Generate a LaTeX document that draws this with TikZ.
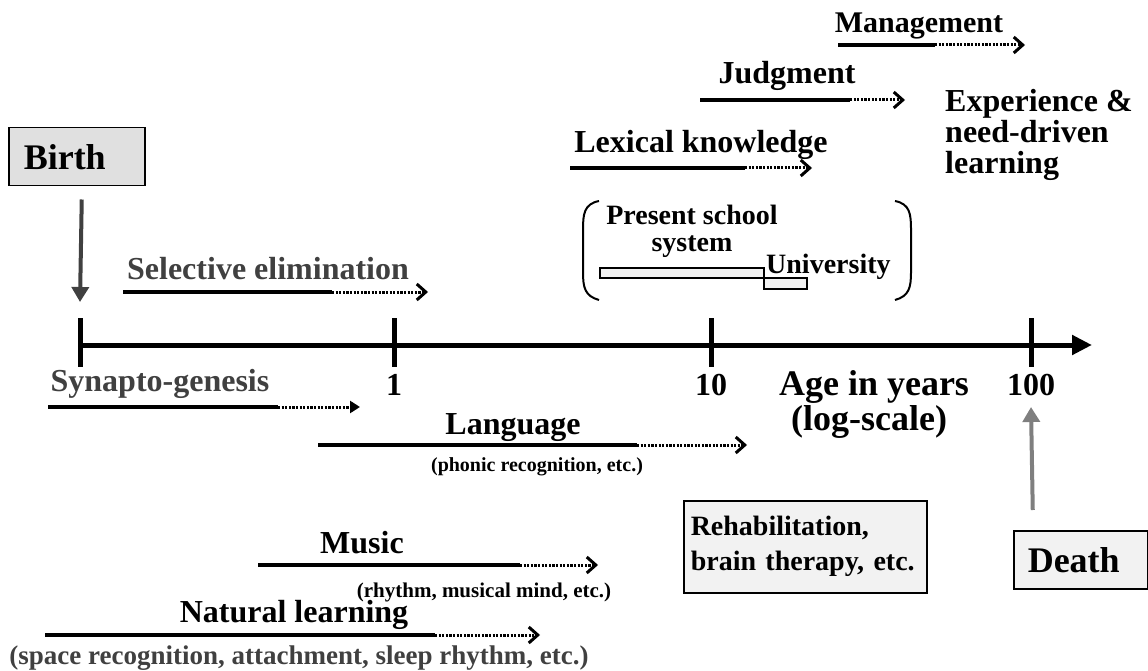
\documentclass[tikz,border=0pt]{standalone}
\usepackage{fontspec}
\setmainfont{Liberation Serif}
\usetikzlibrary{arrows.meta, positioning}
\definecolor{darkgr}{HTML}{404040}
\definecolor{midgr}{HTML}{7F7F7F}
\definecolor{boxgr}{HTML}{E0E0E0}
\definecolor{lightgr}{HTML}{F2F2F2}

\begin{document}
\begin{tikzpicture}[x=1pt, y=-1pt,
  lbl/.style = {font=\fontsize{32}{34}\selectfont\bfseries, inner sep=0pt},
  biglbl/.style = {font=\fontsize{36}{38}\selectfont\bfseries, inner sep=0pt},
  note/.style = {font=\fontsize{20}{22}\selectfont\bfseries, inner sep=0pt},
  sure/.style = {line width=3.5pt},
  later/.style = {line width=3pt, dash pattern=on 2.2pt off 1.4pt,
    -{Straight Barb[length=9pt, width=16pt, line width=3pt]}},
  event/.style = {draw, line width=1.5pt, minimum height=58pt, align=left}]

\useasboundingbox (0,0) rectangle (1148,671);

% time axis
\coordinate (t0) at (80,345);
\coordinate (t1) at (394,345);
\coordinate (t10) at (711,345);
\coordinate (t100) at (1031,345);
\coordinate (tend) at (1092,345);
\draw[line width=5pt, -{Triangle[length=20pt, width=19pt]}] (t0) -- (tend);
\foreach \t in {t0, t1, t10, t100}
  \draw[line width=5pt] ([yshift=27pt]\t) -- ([yshift=-22pt]\t);
\node[lbl, anchor=base] (one) at (394,395) {1};
\node[lbl, anchor=base] (ten) at (711,395) {10};
\node[lbl, anchor=base] (hund) at (1031,395) {100};
\node[biglbl, anchor=base] (age) at (874,395) {Age in years};
\node[biglbl, anchor=base] (logsc) at (869,430) {(log-scale)};

% birth and death
\node[event, fill=boxgr, minimum width=136pt, text width=106pt, inner xsep=15pt,
  biglbl, anchor=north west] (birth) at (8,127) {Birth};
\node[event, fill=lightgr, minimum width=134pt, text width=106pt, inner xsep=14pt,
  biglbl, anchor=north west] (death) at (1013,530) {Death};
\draw[darkgr, line width=4pt, -{Triangle[length=15pt, width=17pt]}]
  ([shift={(5pt,-13pt)}]birth.south) -- ([yshift=43pt]t0);
\draw[midgr, line width=4pt, -{Triangle[length=15pt, width=17pt]}]
  ([shift={(-48pt,20pt)}]death.north) -- ([yshift=-62pt]t100);
\node[event, fill=lightgr, minimum width=243pt, minimum height=92pt, text width=229pt,
  inner xsep=7pt, font=\fontsize{28}{35}\selectfont\bfseries, anchor=north west]
  (rehab) at (683,500) {Rehabilitation,\\brain therapy, etc.};

% later life
\node[lbl, font=\fontsize{30}{32}\selectfont\bfseries, anchor=base] (mgmt) at (919,33) {Management};
\coordinate (mgmt-a) at (838,45);
\coordinate (mgmt-b) at (935,45);
\coordinate (mgmt-c) at (1025,45);
\draw[sure] (mgmt-a) -- (mgmt-b);
\draw[later] (mgmt-b) -- (mgmt-c);

\node[lbl, anchor=base] (judg) at (787,84) {Judgment};
\coordinate (judg-a) at (700,100);
\coordinate (judg-b) at (850,100);
\coordinate (judg-c) at (905,100);
\draw[sure] (judg-a) -- (judg-b);
\draw[later] (judg-b) -- (judg-c);

\node[lbl, anchor=base] (lex) at (701,153) {Lexical knowledge};
\coordinate (lex-a) at (570,168);
\coordinate (lex-b) at (745,168);
\coordinate (lex-c) at (812,168);
\draw[sure] (lex-a) -- (lex-b);
\draw[later] (lex-b) -- (lex-c);

\node[lbl, align=left, font=\fontsize{32}{31}\selectfont\bfseries, anchor=north west]
  (exp) at (945,89) {Experience \&\\need-driven\\learning};

% school
\node[lbl, align=center, font=\fontsize{28}{27}\selectfont\bfseries, anchor=north]
  (school) at (692,205) {Present school\\system};
\node[lbl, font=\fontsize{28}{30}\selectfont\bfseries, anchor=base west] (univ) at (766,273) {University};
\draw[line width=2pt, fill=lightgr] (600,268) rectangle (764,278);
\draw[line width=2pt, fill=lightgr] (764,278) rectangle (807,289);
\draw[line width=2pt] (599,201) .. controls (584,204) and (583,214) .. (583,230)
  -- (583,272) .. controls (583,288) and (585,296) .. (599,300);
\draw[line width=2pt] (895,201) .. controls (910,204) and (911,214) .. (911,230)
  -- (911,272) .. controls (911,288) and (909,296) .. (895,300);

% early life
\node[lbl, darkgr, anchor=base] (sel) at (268,279) {Selective elimination};
\coordinate (sel-a) at (123,292);
\coordinate (sel-b) at (332,292);
\coordinate (sel-c) at (428,292);
\draw[sure] (sel-a) -- (sel-b);
\draw[later] (sel-b) -- (sel-c);

\node[lbl, darkgr, anchor=base] (syn) at (160,391) {Synapto-genesis};
\coordinate (syn-a) at (48,407);
\coordinate (syn-b) at (278,407);
\coordinate (syn-c) at (360,407);
\draw[sure] (syn-a) -- (syn-b);
\draw[later, -{Triangle[length=10pt, width=12pt]}] (syn-b) -- (syn-c);

\node[lbl, anchor=base] (lang) at (513,434) {Language};
\node[note, anchor=base] (phon) at (537,471) {(phonic recognition, etc.)};
\coordinate (lang-a) at (318,445);
\coordinate (lang-b) at (637,445);
\coordinate (lang-c) at (747,445);
\draw[sure] (lang-a) -- (lang-b);
\draw[later] (lang-b) -- (lang-c);

\node[lbl, anchor=base] (music) at (362,553) {Music};
\node[note, font=\fontsize{21}{23}\selectfont\bfseries, anchor=base] (rhy) at (484,597) {(rhythm, musical mind, etc.)};
\coordinate (music-a) at (258,565);
\coordinate (music-b) at (520,565);
\coordinate (music-c) at (598,565);
\draw[sure] (music-a) -- (music-b);
\draw[later] (music-b) -- (music-c);

\node[lbl, anchor=base] (nat) at (294,622) {Natural learning};
\node[note, darkgr, font=\fontsize{27}{29}\selectfont\bfseries, anchor=base] (spc) at (299,664)
  {(space recognition, attachment, sleep rhythm, etc.)};
\coordinate (nat-a) at (45,635);
\coordinate (nat-b) at (435,635);
\coordinate (nat-c) at (540,635);
\draw[sure] (nat-a) -- (nat-b);
\draw[later] (nat-b) -- (nat-c);
\end{tikzpicture}
\end{document}
